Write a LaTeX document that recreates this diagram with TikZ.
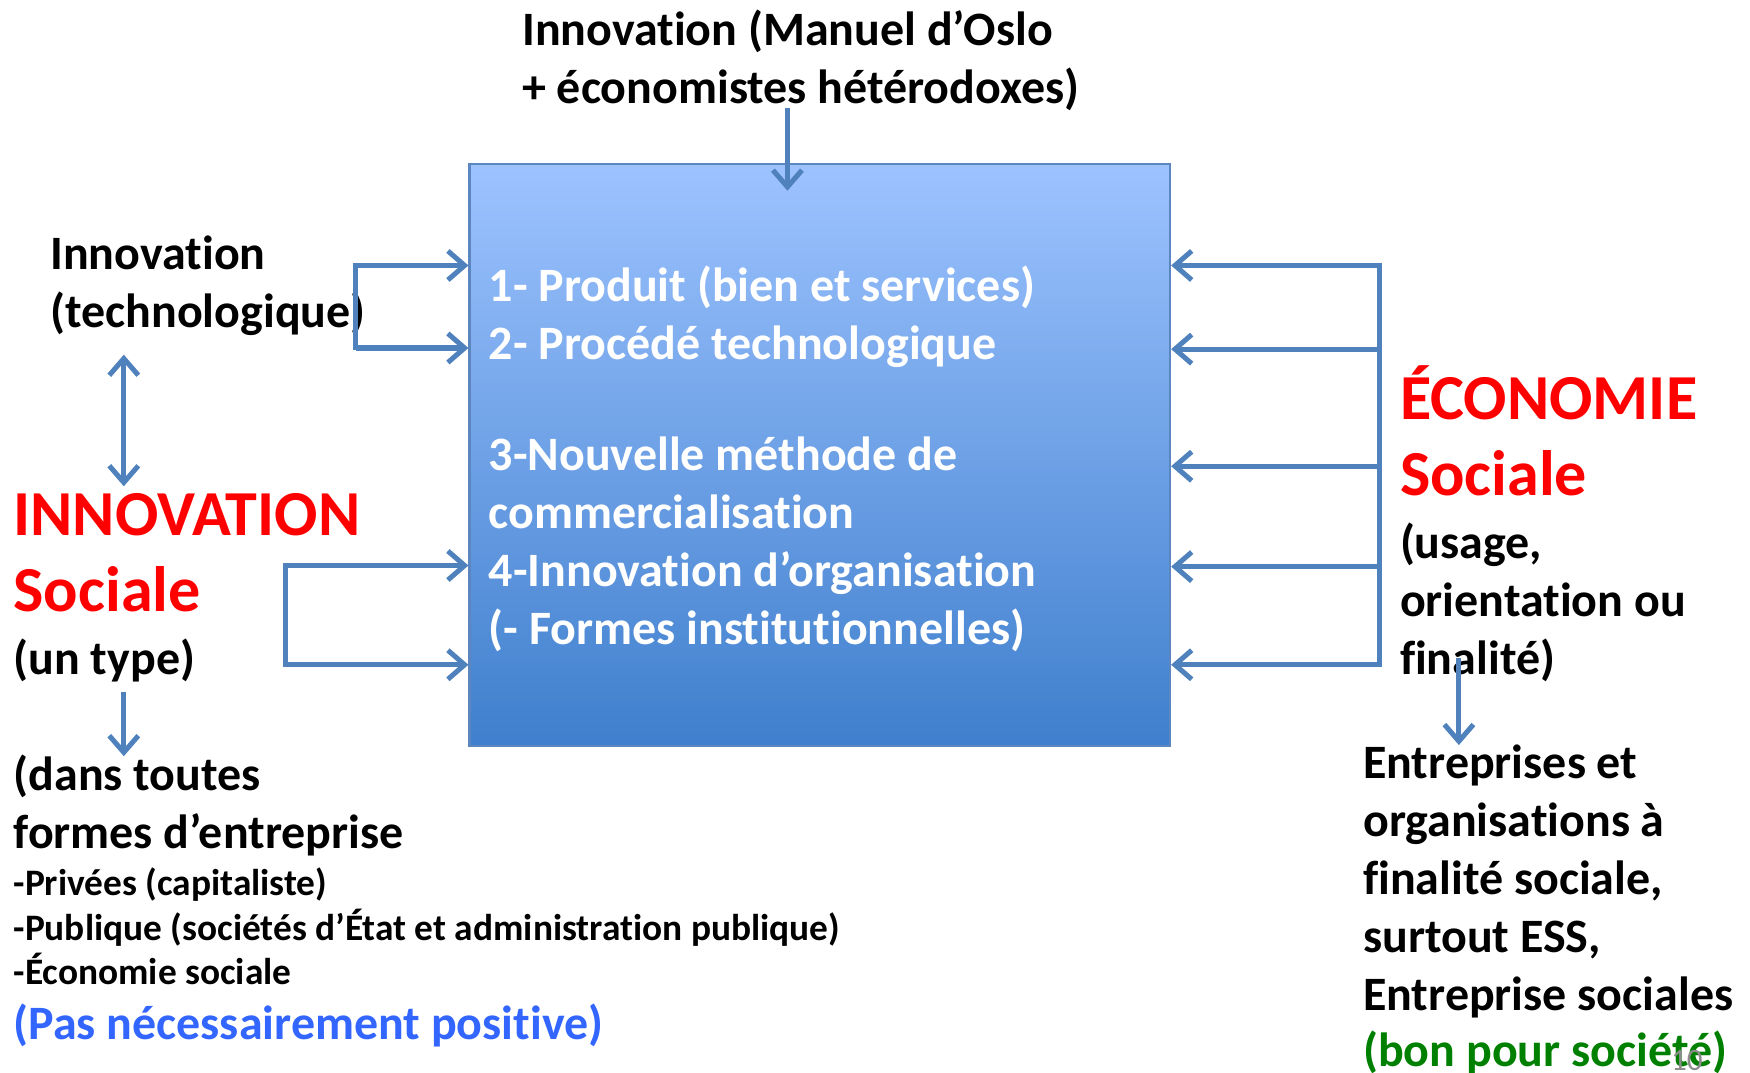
\documentclass[tikz,border=0pt]{standalone}
\usepackage{fontspec}
\setmainfont{Carlito}[Ligatures=NoCommon]
\usetikzlibrary{arrows.meta,calc}
\definecolor{arrowblue}{HTML}{4F81BD}
\definecolor{boxtop}{HTML}{9DC3FF}
\definecolor{boxbot}{HTML}{3F7FCD}
\definecolor{boxedge}{HTML}{5B86C0}
\definecolor{txtblue}{HTML}{3366FF}
\definecolor{txtgreen}{HTML}{008000}
\definecolor{txtred}{HTML}{FF0000}
\definecolor{pagegray}{HTML}{8C8C8C}
\tikzset{
  arr/.style={draw=arrowblue, line width=4.5pt, -{Straight Barb[length=15pt,width=26pt]}},
  dblarr/.style={draw=arrowblue, line width=4.5pt, {Straight Barb[length=15pt,width=26pt]}-{Straight Barb[length=15pt,width=26pt]}},
  link/.style={draw=arrowblue, line width=4.5pt},
  txt/.style={anchor=base west, inner sep=0pt, align=left, font=\bfseries\fontsize{43}{52}\selectfont},
  smalltxt/.style={anchor=base west, inner sep=0pt, align=left, font=\bfseries\fontsize{33.5}{40}\selectfont},
  bigtxt/.style={anchor=base west, inner sep=0pt, align=left, text=txtred, font=\bfseries\fontsize{57.5}{68}\selectfont},
}
\begin{document}
% multi-line nodes are anchored at the baseline of their last line
\begin{tikzpicture}[x=1pt,y=-1pt]
\useasboundingbox (0,0) rectangle (1569,962);
% central box
\node (box) [anchor=north west, inner sep=0pt, minimum width=628pt, minimum height=522pt,
  draw=boxedge, line width=2pt, top color=boxtop, bottom color=boxbot] at (420,146) {};
\node (boxtxt) [txt, text=white] at (438,578) {1- Produit (bien et services)\\2- Procédé technologique\\[48pt]3-Nouvelle méthode de\\commercialisation\\4-Innovation d’organisation\\(- Formes institutionnelles)};
% top text
\node (oslo) [txt] at (468,93) {Innovation (Manuel d’Oslo\\+ économistes hétérodoxes)};
% left texts
\node (techno) [txt] at (45,294) {Innovation\\(technologique)};
\node (innov) [bigtxt] at (12,548) {INNOVATION\\Sociale};
\node (type) [txt] at (12,605) {(un type)};
\node (dans) [txt] at (12,761) {(dans toutes\\formes d’entreprise};
\node (liste) [smalltxt] at (12,883) {-Privées (capitaliste)\\-Publique (sociétés d’État et administration publique)\\-Économie sociale};
\node (pas) [txt, text=txtblue] at (12,932) {(Pas nécessairement positive)};
% right texts
\node (eco) [bigtxt] at (1255,444) {ÉCONOMIE\\Sociale};
\node (usage) [txt] at (1255,605) {(usage,\\orientation ou\\finalité)};
\node (entr) [txt] at (1222,906) {Entreprises et\\organisations à\\finalité sociale,\\surtout ESS,\\Entreprise sociales};
\node (bon) [txt, text=txtgreen] at (1222,956) {(bon pour société)};
\node (page) [anchor=base west, inner sep=0pt, text=pagegray, font=\fontsize{28}{30}\selectfont] at (1498,960) {10};
% top arrow
\coordinate (t1) at (706,97);
\coordinate (t2) at (706,171);
\draw[arr] (t1) -- (t2);
% left upper bracket
\coordinate (lu1) at (319,238);
\coordinate (lu2) at (319,312);
\draw[link] ($(lu1)+(0,-2)$) -- ($(lu2)+(0,2)$);
\draw[arr] (lu1) -- (lu1 -| box.west);
\draw[arr] (lu2) -- (lu2 -| box.west);
% left lower bracket
\coordinate (ll1) at (256,507);
\coordinate (ll2) at (256,596);
\draw[link] ($(ll1)+(0,-2)$) -- ($(ll2)+(0,2)$);
\draw[arr] (ll1) -- (ll1 -| box.west);
\draw[arr] (ll2) -- (ll2 -| box.west);
% right bracket
\coordinate (r1) at (1237,238);
\coordinate (r2) at (1237,313);
\coordinate (r3) at (1237,418);
\coordinate (r4) at (1237,508);
\coordinate (r5) at (1237,596);
\draw[link] ($(r1)+(0,-2)$) -- ($(r5)+(0,2)$);
\foreach \c in {r1,r2,r3,r4,r5} \draw[arr] (\c) -- (\c -| box.east);
% vertical arrows
\coordinate (d1) at (111,318);
\coordinate (d2) at (111,436);
\draw[dblarr] (d1) -- (d2);
\coordinate (d3) at (111,620);
\coordinate (d4) at (111,678);
\draw[arr] (d3) -- (d4);
\coordinate (d5) at (1308,590);
\coordinate (d6) at (1308,668);
\draw[arr] (d5) -- (d6);
\end{tikzpicture}
\end{document}
